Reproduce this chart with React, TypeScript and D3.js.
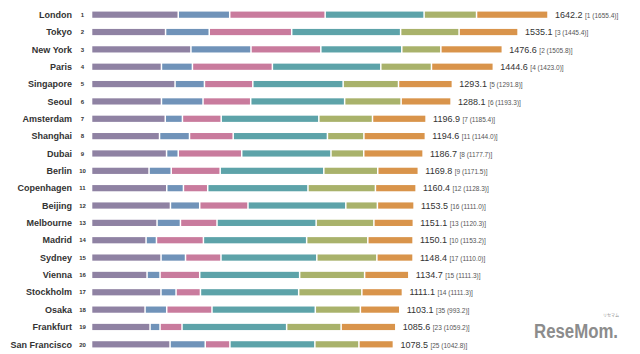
import React, { useEffect, useRef } from 'react';
import * as d3 from 'd3';

// cities in rank order
const cities = [
  'London', 'Tokyo', 'New York', 'Paris', 'Singapore', 'Seoul', 'Amsterdam', 'Shanghai', 'Dubai', 'Berlin',
  'Copenhagen', 'Beijing', 'Melbourne', 'Madrid', 'Sydney', 'Vienna', 'Stockholm', 'Osaka', 'Frankfurt', 'San Francisco',
];
const totals = [
  1642.2, 1535.1, 1476.6, 1444.6, 1293.1, 1288.1, 1196.9, 1194.6, 1186.7, 1169.8,
  1160.4, 1153.5, 1151.1, 1150.1, 1148.4, 1134.7, 1111.1, 1103.1, 1085.6, 1078.5,
];
const prevRanks = [1, 3, 2, 4, 5, 6, 7, 11, 8, 9, 12, 16, 13, 10, 17, 15, 14, 35, 23, 25];
const prevScores = [
  1655.4, 1445.4, 1505.8, 1423.0, 1291.8, 1193.3, 1185.4, 1144.0, 1177.7, 1171.5,
  1128.3, 1111.0, 1120.3, 1153.2, 1110.0, 1111.3, 1111.3, 993.2, 1059.2, 1042.8,
];

// segment values per function (estimated)
const economy = [309.7, 264.0, 355.4, 249.2, 298.2, 249.2, 262.9, 242.3, 267.6, 204.5, 268.3, 281.6, 233.3, 193.7, 247.7, 197.3, 247.4, 190.1, 208.1, 280.2];
const research = [185.5, 157.4, 216.4, 111.6, 105.9, 149.8, 61.9, 108.0, 42.1, 79.9, 60.1, 105.5, 84.3, 37.5, 88.2, 46.8, 54.4, 78.1, 36.0, 126.8];
const culture = [343.9, 297.1, 251.7, 288.1, 174.3, 171.8, 139.7, 157.4, 228.7, 176.4, 87.5, 173.9, 131.8, 169.2, 127.8, 143.0, 87.9, 163.1, 79.2, 88.9];
const livability = [356.5, 392.5, 291.7, 390.7, 325.5, 338.5, 351.8, 339.6, 321.6, 373.4, 361.2, 352.5, 357.2, 372.0, 345.3, 360.1, 354.0, 372.3, 377.0, 306.1];
const environment = [189.0, 210.7, 140.8, 182.6, 199.5, 203.5, 193.4, 131.4, 118.1, 194.4, 243.1, 113.8, 208.1, 220.4, 216.4, 234.1, 227.6, 162.4, 196.3, 158.8];
const accessibility = [257.5, 212.5, 221.5, 222.9, 194.1, 180.0, 193.0, 221.5, 213.9, 146.2, 146.6, 132.2, 142.2, 163.1, 130.4, 159.2, 146.2, 141.9, 197.0, 124.2];

const keys = ['economy', 'research', 'culture', 'livability', 'environment', 'accessibility'];
const colors = ['#8f82a3', '#7093b9', '#c97b9d', '#5da3a9', '#a9b26b', '#d9944b'];

export default function App() {
  const ref = useRef<SVGSVGElement>(null);

  useEffect(() => {
    draw();
    // eslint-disable-next-line react-hooks/exhaustive-deps
  }, []);

  function draw() {
    const svg = d3.select(ref.current);
    svg.selectAll('*').remove();
    const font = "'Liberation Sans', Arial, sans-serif";

    const rows = cities.map((c, i) => ({
      city: c,
      economy: economy[i],
      research: research[i],
      culture: culture[i],
      livability: livability[i],
      environment: environment[i],
      accessibility: accessibility[i],
    }));
    const series = d3.stack<any>().keys(keys)(rows);
    const sums = rows.map((r) => d3.sum(keys, (k) => r[k]));

    const x = d3.scaleLinear().domain([0, d3.max(sums)!]).range([92.3, 548]);
    const y = d3.scaleBand().domain(cities).range([6, 353]).padding(0);
    const barH = 6.2;

    const g = svg.append('g');
    series.forEach((s, si) => {
      g.selectAll(null)
        .data(s)
        .enter()
        .append('rect')
        .attr('x', (d) => x(d[0]) + (si === 0 ? 0 : 0.75))
        .attr('y', (d) => y(d.data.city)! + y.bandwidth() / 2 - barH / 2)
        .attr('width', (d) => Math.max(0, x(d[1]) - x(d[0]) - (si === 0 ? 0.75 : 1.5)))
        .attr('height', barH)
        .attr('fill', colors[si]);
    });

    const cy = (c: string) => y(c)! + y.bandwidth() / 2;

    g.selectAll('.city')
      .data(cities)
      .enter()
      .append('text')
      .attr('x', 72)
      .attr('y', (d) => cy(d) + 3.2)
      .attr('text-anchor', 'end')
      .attr('font-family', font)
      .attr('font-size', 9)
      .attr('font-weight', 'bold')
      .attr('fill', '#333')
      .text((d) => d);

    g.selectAll('.rank')
      .data(cities)
      .enter()
      .append('text')
      .attr('x', 82.5)
      .attr('y', (d) => cy(d) + 2.2)
      .attr('text-anchor', 'middle')
      .attr('font-family', font)
      .attr('font-size', 6)
      .attr('font-weight', 'bold')
      .attr('fill', '#333')
      .text((d, i) => i + 1);

    const val = g
      .selectAll('.val')
      .data(cities)
      .enter()
      .append('text')
      .attr('x', (d, i) => x(sums[i]) + 7)
      .attr('y', (d) => cy(d) + 3.2)
      .attr('font-family', font)
      .attr('fill', '#333');
    val
      .append('tspan')
      .attr('font-size', 9)
      .text((d, i) => totals[i].toFixed(1));
    val
      .append('tspan')
      .attr('font-size', 6.5)
      .attr('fill', '#555')
      .attr('dx', 2.5)
      .text((d, i) => `[${prevRanks[i]} (${prevScores[i].toFixed(1)})]`);

    // logo
    svg
      .append('text')
      .attr('x', 534)
      .attr('y', 338)
      .attr('font-family', font)
      .attr('font-size', 20)
      .attr('font-weight', 'bold')
      .attr('fill', '#8c8c8c')
      .attr('textLength', 84)
      .attr('lengthAdjust', 'spacingAndGlyphs')
      .text('ReseMom.');
    svg
      .append('text')
      .attr('x', 611)
      .attr('y', 317)
      .attr('text-anchor', 'middle')
      .attr('font-family', "'Noto Sans CJK JP', sans-serif")
      .attr('font-size', 4)
      .attr('fill', '#8c8c8c')
      .text('リセマム');
  }

  return (
    <svg
      ref={ref}
      width={640}
      height={354}
      style={{ position: 'absolute', left: 0, top: 0, background: '#fff' }}
    />
  );
}
